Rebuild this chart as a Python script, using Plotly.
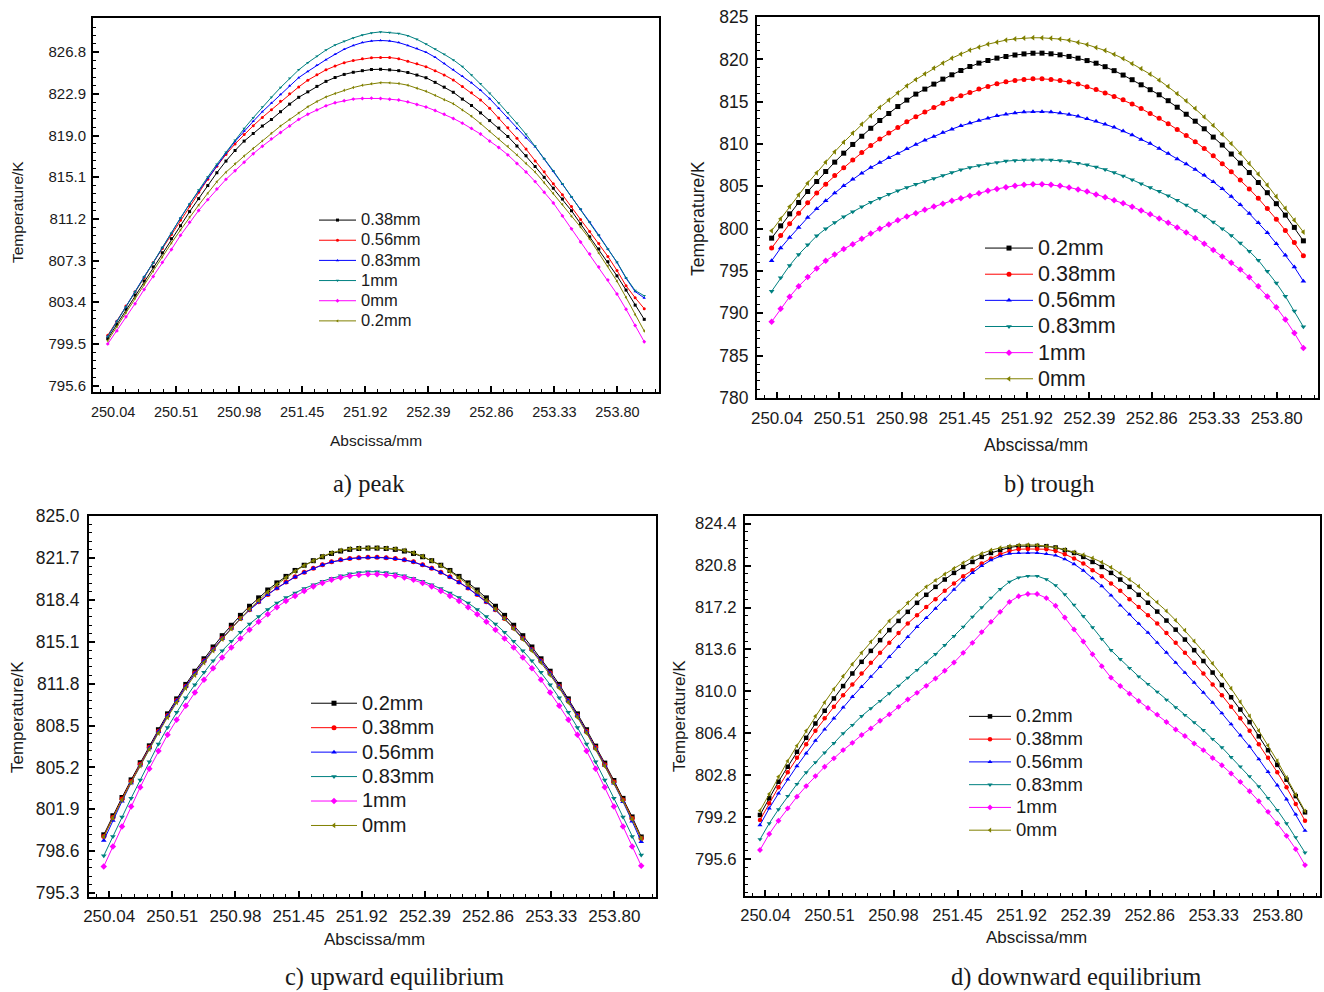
import numpy as np
import plotly.graph_objects as go

W, H = 1324, 992
X = np.linspace(250.0, 254.0, 60)

# ---------------- a) peak ----------------
a_038 = [800.0, 801.32, 802.75, 804.07, 805.39, 806.71, 808.03, 809.35, 810.56, 811.88, 813.1, 814.32, 815.52, 816.61, 817.6, 818.48, 819.19, 819.89, 820.5, 821.23, 821.94, 822.58, 823.09, 823.6, 824.07, 824.43, 824.72, 824.92, 825.07, 825.18,
         825.2, 825.15, 825.07, 824.9, 824.66, 824.41, 823.98, 823.53, 823.05, 822.41, 821.81, 821.12, 820.4, 819.7, 818.91, 818.02, 817.11, 816.1, 815.09, 814.07, 813.06, 811.96, 810.74, 809.52, 808.39, 807.19, 805.87, 804.54, 803.13, 801.8]
a_056 = [800.3, 801.62, 803.05, 804.37, 805.69, 807.11, 808.43, 809.75, 811.08, 812.4, 813.7, 814.92, 816.12, 817.23, 818.22, 819.1, 819.92, 820.7, 821.42, 822.2, 822.9, 823.55, 824.18, 824.7, 825.15, 825.5, 825.82, 826.02, 826.18, 826.28,
         826.3, 826.3, 826.19, 825.96, 825.72, 825.44, 825.06, 824.67, 824.2, 823.6, 823.01, 822.33, 821.55, 820.64, 819.74, 818.74, 817.73, 816.61, 815.6, 814.48, 813.46, 812.35, 811.14, 810.01, 808.89, 807.69, 806.37, 804.94, 803.82, 802.8]
a_083 = [800.2, 801.62, 802.95, 804.37, 805.79, 807.1, 808.53, 809.86, 811.28, 812.6, 813.8, 815.02, 816.2, 817.34, 818.45, 819.42, 820.33, 821.23, 822.04, 822.85, 823.67, 824.42, 825.0, 825.58, 826.1, 826.6, 827.07, 827.43, 827.7, 827.85,
         827.9, 827.85, 827.7, 827.43, 827.14, 826.8, 826.33, 825.75, 825.15, 824.55, 823.93, 823.23, 822.45, 821.55, 820.65, 819.65, 818.8, 817.96, 816.82, 815.65, 814.45, 813.25, 812.1, 810.9, 809.68, 808.35, 807.12, 805.65, 804.4, 803.8]
a_1 = [800.2, 801.6, 802.95, 804.37, 805.79, 807.1, 808.53, 809.86, 811.28, 812.6, 813.9, 815.13, 816.32, 817.44, 818.56, 819.65, 820.67, 821.66, 822.58, 823.49, 824.37, 825.15, 825.82, 826.43, 827.0, 827.47, 827.83, 828.14, 828.4, 828.6,
       828.7, 828.65, 828.55, 828.35, 828.0, 827.56, 827.1, 826.6, 826.08, 825.45, 824.66, 823.85, 822.96, 822.05, 821.13, 820.14, 819.12, 818.02, 816.83, 815.7, 814.48, 813.27, 812.13, 810.92, 809.7, 808.38, 807.16, 805.7, 804.5, 804.0]
a_0 = [799.5, 800.72, 802.04, 803.26, 804.59, 805.81, 807.13, 808.34, 809.66, 810.88, 811.99, 813.0, 814.0, 814.9, 815.7, 816.5, 817.3, 818.0, 818.69, 819.29, 819.9, 820.51, 820.99, 821.4, 821.78, 822.07, 822.25, 822.41, 822.47, 822.5,
       822.47, 822.4, 822.32, 822.15, 821.9, 821.67, 821.34, 820.99, 820.6, 820.16, 819.67, 819.14, 818.48, 817.88, 817.19, 816.39, 815.59, 814.69, 813.69, 812.69, 811.48, 810.27, 809.04, 807.92, 806.7, 805.49, 804.17, 802.74, 801.23, 799.7]
a_02 = [799.8, 801.12, 802.44, 803.77, 805.08, 806.31, 807.63, 808.94, 810.16, 811.38, 812.49, 813.6, 814.68, 815.57, 816.36, 817.08, 817.79, 818.5, 819.21, 819.89, 820.5, 821.11, 821.69, 822.18, 822.61, 822.93, 823.23, 823.49, 823.7, 823.85,
        823.95, 823.93, 823.87, 823.71, 823.43, 823.14, 822.76, 822.35, 821.98, 821.4, 820.81, 820.12, 819.4, 818.69, 817.99, 817.19, 816.38, 815.58, 814.59, 813.57, 812.56, 811.45, 810.43, 809.32, 808.0, 806.79, 805.37, 803.85, 802.23, 800.7]

# ---------------- b) trough ----------------
b_02 = [798.88, 800.33, 801.75, 803.09, 804.39, 805.57, 806.75, 807.86, 808.92, 809.95, 810.92, 811.86, 812.78, 813.61, 814.43, 815.19, 815.9, 816.49, 817.08, 817.67, 818.18, 818.69, 819.16, 819.56, 819.87, 820.15, 820.34, 820.52, 820.65, 820.73,
        820.74, 820.66, 820.54, 820.35, 820.14, 819.86, 819.55, 819.14, 818.67, 818.15, 817.6, 817.0, 816.42, 815.82, 815.12, 814.35, 813.52, 812.7, 811.8, 810.82, 809.88, 808.82, 807.75, 806.63, 805.45, 804.25, 802.95, 801.6, 800.15, 798.56]
b_038 = [797.7, 799.19, 800.57, 801.83, 803.05, 804.2, 805.26, 806.28, 807.19, 808.1, 809.0, 809.82, 810.58, 811.29, 811.95, 812.62, 813.22, 813.77, 814.32, 814.83, 815.31, 815.7, 816.09, 816.49, 816.8, 817.12, 817.35, 817.52, 817.63, 817.7,
         817.7, 817.63, 817.52, 817.34, 817.1, 816.77, 816.45, 816.04, 815.63, 815.22, 814.72, 814.19, 813.62, 813.04, 812.41, 811.71, 811.02, 810.28, 809.47, 808.61, 807.67, 806.72, 805.76, 804.69, 803.58, 802.38, 801.11, 799.79, 798.35, 796.8]
b_056 = [796.2, 797.7, 798.95, 800.15, 801.31, 802.34, 803.29, 804.2, 805.06, 805.85, 806.56, 807.22, 807.81, 808.37, 808.88, 809.43, 809.94, 810.46, 810.89, 811.36, 811.76, 812.15, 812.47, 812.78, 813.06, 813.33, 813.53, 813.68, 813.78, 813.82,
         813.82, 813.78, 813.67, 813.5, 813.28, 812.99, 812.68, 812.33, 811.97, 811.53, 811.07, 810.54, 810.05, 809.46, 808.87, 808.24, 807.64, 806.99, 806.3, 805.53, 804.71, 803.8, 802.82, 801.78, 800.7, 799.53, 798.22, 796.87, 795.46, 793.8]
b_083 = [792.6, 794.2, 795.65, 796.95, 798.1, 799.15, 799.98, 800.72, 801.4, 801.99, 802.58, 803.13, 803.6, 804.08, 804.47, 804.86, 805.26, 805.57, 805.92, 806.28, 806.63, 806.95, 807.22, 807.46, 807.66, 807.81, 807.98, 808.06, 808.11, 808.13,
         808.13, 808.1, 808.04, 807.94, 807.73, 807.54, 807.28, 806.98, 806.63, 806.23, 805.78, 805.32, 804.85, 804.42, 803.88, 803.35, 802.8, 802.16, 801.51, 800.78, 799.99, 799.2, 798.3, 797.34, 796.27, 794.98, 793.57, 792.01, 790.28, 788.4]
b_1 = [789.0, 790.55, 791.95, 793.2, 794.3, 795.3, 796.2, 796.95, 797.6, 798.17, 798.8, 799.42, 799.98, 800.5, 800.98, 801.43, 801.83, 802.22, 802.61, 802.95, 803.29, 803.6, 803.88, 804.18, 804.47, 804.7, 804.9, 805.07, 805.18, 805.25,
       805.25, 805.18, 805.06, 804.87, 804.64, 804.38, 804.05, 803.7, 803.36, 802.99, 802.58, 802.16, 801.69, 801.21, 800.71, 800.15, 799.56, 798.91, 798.23, 797.47, 796.7, 795.98, 795.17, 794.25, 793.18, 791.99, 790.71, 789.26, 787.66, 785.9]
b_0 = [799.74, 801.16, 802.6, 804.0, 805.38, 806.6, 807.86, 809.08, 810.22, 811.29, 812.35, 813.33, 814.32, 815.19, 816.05, 816.88, 817.62, 818.3, 818.97, 819.56, 820.15, 820.63, 821.1, 821.45, 821.8, 822.04, 822.28, 822.42, 822.52, 822.56,
       822.55, 822.5, 822.4, 822.25, 822.0, 821.75, 821.4, 821.05, 820.6, 820.1, 819.5, 818.9, 818.25, 817.55, 816.8, 815.95, 815.1, 814.2, 813.2, 812.2, 811.15, 810.05, 808.9, 807.7, 806.45, 805.15, 803.8, 802.4, 801.0, 799.6]

# ---------------- c) upward equilibrium ----------------
c_02 = [799.89, 801.39, 802.83, 804.22, 805.57, 806.9, 808.17, 809.42, 810.6, 811.74, 812.78, 813.76, 814.69, 815.58, 816.4, 817.18, 817.9, 818.56, 819.18, 819.74, 820.25, 820.72, 821.13, 821.49, 821.8, 822.06, 822.25, 822.38, 822.45, 822.48,
        822.48, 822.45, 822.38, 822.25, 822.06, 821.8, 821.49, 821.13, 820.72, 820.25, 819.74, 819.18, 818.56, 817.9, 817.18, 816.4, 815.58, 814.69, 813.76, 812.78, 811.74, 810.6, 809.42, 808.17, 806.88, 805.54, 804.17, 802.76, 801.3, 799.72]
c_038 = [799.76, 801.26, 802.71, 804.1, 805.45, 806.78, 808.05, 809.29, 810.47, 811.6, 812.63, 813.6, 814.51, 815.38, 816.18, 816.93, 817.62, 818.25, 818.83, 819.34, 819.8, 820.22, 820.58, 820.9, 821.17, 821.4, 821.56, 821.67, 821.73, 821.76,
         821.76, 821.73, 821.67, 821.56, 821.4, 821.17, 820.9, 820.58, 820.22, 819.8, 819.34, 818.83, 818.25, 817.62, 816.93, 816.18, 815.38, 814.51, 813.6, 812.63, 811.6, 810.47, 809.29, 808.05, 806.76, 805.42, 804.05, 802.64, 801.17, 799.6]
c_056 = [799.44, 801.01, 802.53, 803.98, 805.37, 806.73, 808.02, 809.27, 810.45, 811.58, 812.61, 813.58, 814.49, 815.36, 816.16, 816.91, 817.6, 818.23, 818.81, 819.32, 819.78, 820.2, 820.56, 820.88, 821.15, 821.38, 821.54, 821.65, 821.71, 821.74,
         821.74, 821.71, 821.65, 821.54, 821.38, 821.15, 820.88, 820.56, 820.2, 819.78, 819.32, 818.81, 818.23, 817.6, 816.91, 816.16, 815.36, 814.49, 813.58, 812.61, 811.58, 810.45, 809.27, 808.02, 806.71, 805.35, 803.96, 802.5, 800.96, 799.35]
c_083 = [798.24, 799.76, 801.3, 802.78, 804.2, 805.65, 807.05, 808.35, 809.55, 810.68, 811.72, 812.7, 813.6, 814.4, 815.15, 815.85, 816.5, 817.1, 817.65, 818.15, 818.58, 818.95, 819.3, 819.6, 819.87, 820.1, 820.3, 820.45, 820.56, 820.62,
         820.62, 820.56, 820.45, 820.3, 820.1, 819.87, 819.6, 819.3, 818.95, 818.58, 818.15, 817.65, 817.1, 816.5, 815.85, 815.15, 814.4, 813.6, 812.7, 811.72, 810.68, 809.55, 808.35, 807.05, 805.65, 804.2, 802.78, 801.3, 799.76, 798.3]
c_1 = [797.4, 798.97, 800.55, 802.12, 803.64, 805.1, 806.5, 807.78, 808.95, 810.05, 811.1, 812.1, 813.02, 813.86, 814.64, 815.35, 816.04, 816.67, 817.27, 817.83, 818.32, 818.71, 819.11, 819.45, 819.74, 819.98, 820.16, 820.29, 820.37, 820.42,
       820.42, 820.37, 820.29, 820.16, 819.98, 819.74, 819.45, 819.11, 818.71, 818.32, 817.83, 817.27, 816.67, 816.04, 815.35, 814.64, 813.86, 813.02, 812.1, 811.1, 810.05, 808.95, 807.78, 806.5, 805.1, 803.64, 802.12, 800.55, 798.97, 797.45]
c_0 = [799.74, 801.22, 802.64, 804.01, 805.34, 806.65, 807.91, 809.15, 810.32, 811.45, 812.48, 813.46, 814.4, 815.3, 816.13, 816.93, 817.68, 818.37, 819.02, 819.61, 820.15, 820.65, 821.1, 821.49, 821.83, 822.11, 822.3, 822.42, 822.47, 822.49,
       822.49, 822.47, 822.42, 822.3, 822.11, 821.83, 821.49, 821.1, 820.65, 820.15, 819.61, 819.02, 818.37, 817.68, 816.93, 816.13, 815.3, 814.4, 813.46, 812.48, 811.45, 810.32, 809.15, 807.91, 806.63, 805.31, 803.96, 802.57, 801.12, 799.6]

# ---------------- d) downward equilibrium ----------------
d_02 = [799.4, 800.83, 802.25, 803.54, 804.82, 806.02, 807.25, 808.34, 809.4, 810.46, 811.54, 812.54, 813.48, 814.4, 815.26, 816.05, 816.83, 817.6, 818.29, 818.97, 819.6, 820.17, 820.68, 821.11, 821.54, 821.88, 822.12, 822.35, 822.46, 822.48,
        822.48, 822.46, 822.35, 822.12, 821.88, 821.54, 821.11, 820.68, 820.17, 819.6, 818.97, 818.29, 817.61, 816.85, 816.08, 815.3, 814.45, 813.54, 812.61, 811.62, 810.55, 809.5, 808.45, 807.37, 806.15, 804.96, 803.7, 802.43, 801.02, 799.63]
d_038 = [798.97, 800.4, 801.77, 803.06, 804.31, 805.46, 806.62, 807.69, 808.68, 809.68, 810.6, 811.54, 812.45, 813.31, 814.17, 815.02, 815.83, 816.54, 817.25, 817.91, 818.63, 819.26, 819.89, 820.4, 820.98, 821.41, 821.77, 822.05, 822.2, 822.22,
         822.22, 822.2, 822.05, 821.77, 821.41, 820.98, 820.4, 819.89, 819.26, 818.63, 817.91, 817.25, 816.54, 815.83, 815.02, 814.17, 813.31, 812.45, 811.54, 810.6, 809.68, 808.68, 807.69, 806.62, 805.46, 804.31, 803.06, 801.77, 800.35, 798.91]
d_056 = [798.54, 799.97, 801.25, 802.45, 803.6, 804.69, 805.77, 806.74, 807.69, 808.63, 809.54, 810.4, 811.26, 812.11, 812.97, 813.83, 814.68, 815.54, 816.31, 817.11, 817.88, 818.74, 819.54, 820.17, 820.77, 821.26, 821.6, 821.83, 821.88, 821.88,
         821.88, 821.8, 821.67, 821.35, 820.93, 820.37, 819.72, 819.04, 818.24, 817.38, 816.61, 815.81, 815.04, 814.18, 813.33, 812.47, 811.61, 810.76, 809.9, 809.04, 808.13, 807.19, 806.24, 805.27, 804.19, 803.1, 801.95, 800.75, 799.45, 798.05]
d_083 = [797.31, 798.68, 799.88, 801.02, 802.05, 803.05, 803.92, 804.75, 805.56, 806.4, 807.11, 807.88, 808.54, 809.17, 809.83, 810.48, 811.17, 811.83, 812.48, 813.2, 813.97, 814.74, 815.54, 816.4, 817.2, 818.03, 818.77, 819.4, 819.77, 819.9,
         819.9, 819.62, 819.1, 818.32, 817.43, 816.45, 815.5, 814.49, 813.54, 812.77, 812.0, 811.28, 810.63, 809.97, 809.28, 808.63, 807.97, 807.34, 806.68, 805.91, 805.2, 804.36, 803.55, 802.72, 801.85, 800.85, 799.82, 798.68, 797.48, 796.17]
d_1 = [796.4, 797.77, 798.91, 799.97, 800.97, 801.88, 802.74, 803.54, 804.26, 804.97, 805.59, 806.26, 806.83, 807.48, 808.03, 808.68, 809.31, 809.88, 810.48, 811.11, 811.77, 812.48, 813.31, 814.17, 815.09, 815.97, 816.83, 817.68, 818.17, 818.36,
       818.36, 818.01, 817.35, 816.34, 815.32, 814.28, 813.19, 812.17, 811.18, 810.47, 809.81, 809.18, 808.58, 808.01, 807.38, 806.73, 806.18, 805.53, 804.96, 804.29, 803.67, 802.96, 802.24, 801.44, 800.58, 799.67, 798.67, 797.61, 796.47, 795.1]
d_0 = [799.77, 801.2, 802.68, 804.03, 805.34, 806.62, 807.88, 809.06, 810.2, 811.31, 812.34, 813.31, 814.26, 815.15, 816.05, 816.83, 817.6, 818.32, 818.97, 819.54, 820.06, 820.55, 821.03, 821.49, 821.83, 822.12, 822.32, 822.46, 822.55, 822.57,
       822.55, 822.46, 822.35, 822.17, 821.95, 821.72, 821.44, 821.08, 820.64, 820.15, 819.6, 819.02, 818.34, 817.66, 816.9, 816.1, 815.24, 814.32, 813.38, 812.4, 811.38, 810.26, 809.1, 807.89, 806.63, 805.36, 804.04, 802.6, 801.14, 799.74]

BLACK, RED, BLUE, TEAL, MAG, OLIVE = "#000000", "#FF0000", "#0000FF", "#008080", "#FF00FF", "#808000"
SYMS = ["square", "circle", "triangle-up", "triangle-down", "diamond", "triangle-left"]

panels = [
    dict(ax="", leg="legend", msize=3, lfont=16.5,
         series=[("0.38mm", a_038, BLACK), ("0.56mm", a_056, RED), ("0.83mm", a_083, BLUE),
                 ("1mm", a_1, TEAL), ("0mm", a_0, MAG), ("0.2mm", a_02, OLIVE)]),
    dict(ax="2", leg="legend2", msize=5, lfont=21.5,
         series=[("0.2mm", b_02, BLACK), ("0.38mm", b_038, RED), ("0.56mm", b_056, BLUE),
                 ("0.83mm", b_083, TEAL), ("1mm", b_1, MAG), ("0mm", b_0, OLIVE)]),
    dict(ax="3", leg="legend3", msize=5, lfont=20,
         series=[("0.2mm", c_02, BLACK), ("0.38mm", c_038, RED), ("0.56mm", c_056, BLUE),
                 ("0.83mm", c_083, TEAL), ("1mm", c_1, MAG), ("0mm", c_0, OLIVE)]),
    dict(ax="4", leg="legend4", msize=4.5, lfont=18.5,
         series=[("0.2mm", d_02, BLACK), ("0.38mm", d_038, RED), ("0.56mm", d_056, BLUE),
                 ("0.83mm", d_083, TEAL), ("1mm", d_1, MAG), ("0mm", d_0, OLIVE)]),
]

fig = go.Figure()
for p in panels:
    for k, (name, vals, col) in enumerate(p["series"]):
        fig.add_trace(go.Scatter(
            x=X, y=vals, mode="lines+markers",
            name='<span style="font-size:%spx">%s</span>' % (p["lfont"], name),
            line=dict(color=col, width=1),
            marker=dict(symbol=SYMS[k], size=p["msize"], color=col, line=dict(width=0)),
            xaxis="x" + p["ax"], yaxis="y" + p["ax"], legend=p["leg"],
        ))

def px2x(px):
    return px / W

def py2y(py):
    return 1 - py / H

FONT = "Liberation Sans, Arial, sans-serif"

def xaxis(dom, yname, fs, so):
    return dict(domain=dom, anchor=yname, range=[249.89, 254.11], automargin=False,
                tick0=250.04, dtick=0.47, tickformat=".2f", ticklabelstandoff=so,
                ticks="inside", ticklen=6, tickwidth=1.5, tickcolor="black",
                minor=dict(ticks="inside", ticklen=3, tickwidth=1.2, tickcolor="black", tick0=250.04, dtick=0.094),
                showline=True, linecolor="black", linewidth=2, mirror=True,
                showgrid=False, zeroline=False,
                tickfont=dict(family=FONT, size=fs, color="#1a1a1a"))

def yaxis(dom, xname, rng, t0, dt, fmt, fs, so):
    return dict(domain=dom, anchor=xname, range=rng, automargin=False,
                tick0=t0, dtick=dt, tickformat=fmt, ticklabelstandoff=so,
                ticks="inside", ticklen=6, tickwidth=1.5, tickcolor="black",
                minor=dict(ticks="inside", ticklen=3, tickwidth=1.2, tickcolor="black", tick0=t0, dtick=dt / 5),
                showline=True, linecolor="black", linewidth=2, mirror=True,
                showgrid=False, zeroline=False,
                tickfont=dict(family=FONT, size=fs, color="#1a1a1a"))

# panel frames (pixels): a: x 93-659, y 18-392 ; b: x 757-1318, y 17-398
#                        c: x 89-656, y 516-897 ; d: x 745-1320, y 516-896
fig.update_layout(
    width=W, height=H, margin=dict(l=0, r=0, t=0, b=0, autoexpand=False),
    paper_bgcolor="white", plot_bgcolor="white",
    xaxis=xaxis([px2x(93), px2x(659)], "y", 14.5, 6),
    yaxis=yaxis([py2y(392), py2y(18)], "x", [795.0, 830.0], 795.6, 3.9, ".1f", 15, 2),
    xaxis2=xaxis([px2x(757), px2x(1318)], "y2", 17, 4),
    yaxis2=yaxis([py2y(398), py2y(17)], "x2", [779.99, 825.01], 780, 5, "d", 17.5, 3),
    xaxis3=xaxis([px2x(89), px2x(656)], "y3", 17, 3),
    yaxis3=yaxis([py2y(897), py2y(516)], "x3", [794.99, 825.01], 795.3, 3.3, ".1f", 17.5, 4),
    xaxis4=xaxis([px2x(745), px2x(1320)], "y4", 16.5, 3),
    yaxis4=yaxis([py2y(896), py2y(516)], "x4", [792.45, 825.05], 795.6, 3.6, ".1f", 16.7, 3),
    legend=dict(x=px2x(314), y=py2y(205), xanchor="left", yanchor="top", bgcolor="rgba(0,0,0,0)",
                font=dict(family=FONT, size=13.2, color="#1a1a1a"), itemwidth=37, tracegroupgap=0),
    legend2=dict(x=px2x(980), y=py2y(230), xanchor="left", yanchor="top", bgcolor="rgba(0,0,0,0)",
                 font=dict(family=FONT, size=17.8, color="#1a1a1a"), itemwidth=48, tracegroupgap=0),
    legend3=dict(x=px2x(306), y=py2y(686), xanchor="left", yanchor="top", bgcolor="rgba(0,0,0,0)",
                 font=dict(family=FONT, size=16.5, color="#1a1a1a"), itemwidth=46, tracegroupgap=0),
    legend4=dict(x=px2x(964), y=py2y(700), xanchor="left", yanchor="top", bgcolor="rgba(0,0,0,0)",
                 font=dict(family=FONT, size=15.2, color="#1a1a1a"), itemwidth=42, tracegroupgap=0),
    showlegend=True,
)

ann = []
def add_text(txt, px, py, fs, family=FONT, angle=0):
    ann.append(dict(text=txt, x=px2x(px), y=py2y(py), xref="paper", yref="paper",
                    xanchor="center", yanchor="middle", showarrow=False, textangle=angle,
                    font=dict(family=family, size=fs, color="#1a1a1a")))

add_text("Abscissa/mm", 376, 440, 15.5)
add_text("Temperature/K", 17, 212, 15.5, angle=-90)
add_text("Abscissa/mm", 1036, 445, 17.5)
add_text("Temperature/K", 698, 219, 17.5, angle=-90)
add_text("Abscissa/mm", 374, 939, 17)
add_text("Temperature/K", 17, 717, 17, angle=-90)
add_text("Abscissa/mm", 1036, 937, 17)
add_text("Temperature/K", 679, 716, 17, angle=-90)

SERIF = "Liberation Serif, Times New Roman, serif"
add_text("a) peak", 369, 484, 24.5, SERIF)
add_text("b) trough", 1049, 484, 24.5, SERIF)
add_text("c) upward equilibrium", 394, 977, 24.5, SERIF)
add_text("d) downward equilibrium", 1076, 977, 24.5, SERIF)
fig.update_layout(annotations=ann)

fig.write_html("out.html")
